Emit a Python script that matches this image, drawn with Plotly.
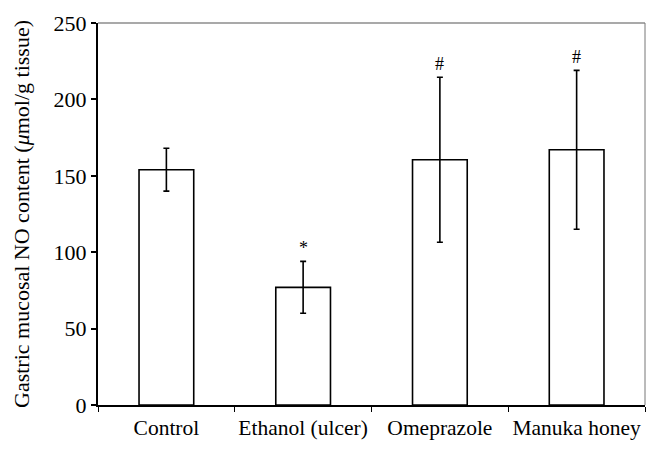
import plotly.graph_objects as go

categories = ["Control", "Ethanol (ulcer)", "Omeprazole", "Manuka honey"]
no_content = [154, 77, 160.5, 167]
sem = [14, 17, 54, 52]
markers = ["", "*", "#", "#"]
y_ticks = [0, 50, 100, 150, 200, 250]

FONT = "Liberation Serif, Times New Roman, serif"

fig = go.Figure()
fig.add_trace(go.Bar(
    x=categories, y=no_content, width=0.4,
    marker=dict(color="white", line=dict(color="black", width=1.6)),
    error_y=dict(type="data", array=sem, visible=True, color="black",
                 thickness=1.6, width=3),
    showlegend=False,
))

for c, v, e, m in zip(categories, no_content, sem, markers):
    if m:
        fig.add_annotation(x=c, y=v + e, text=m, showarrow=False,
                           yanchor="bottom", yshift=1,
                           font=dict(family=FONT, size=18, color="black"))

# top and right frame lines (grey)
fig.add_shape(type="line", xref="paper", yref="paper", x0=0, x1=1, y0=1, y1=1,
              line=dict(color="#555555", width=1.2))
fig.add_shape(type="line", xref="paper", yref="paper", x0=1, x1=1, y0=0, y1=1,
              line=dict(color="#777777", width=1))

# page body has an 8px margin, so the figure is sized/offset to compensate
fig.update_layout(
    width=652, height=445,
    margin=dict(l=90, r=15, t=15, b=48, autoexpand=False),
    plot_bgcolor="white", paper_bgcolor="white",
    font=dict(family=FONT, size=22, color="black"),
    bargap=0.6,
    xaxis=dict(
        type="category", range=[-0.5, 3.5], automargin=False,
        showline=True, linecolor="black", linewidth=1.5,
        ticks="outside", tickson="boundaries", ticklen=5, tickcolor="black",
        tickwidth=1.2, showgrid=False, zeroline=False, ticklabelstandoff=2,
        tickangle=0,
        tickfont=dict(family=FONT, size=21.5, color="black"),
    ),
    yaxis=dict(
        range=[0, 250], tickvals=y_ticks, automargin=False,
        showline=True, linecolor="black", linewidth=2,
        ticks="outside", ticklen=5, tickcolor="black", tickwidth=1.5,
        showgrid=False, zeroline=False,
        tickfont=dict(family=FONT, size=22, color="black"),
        title=dict(text="Gastric mucosal NO content (<i>μ</i>mol/g tissue)",
                   font=dict(family=FONT, size=22, color="black"), standoff=18),
    ),
)

fig.write_html("out.html")
